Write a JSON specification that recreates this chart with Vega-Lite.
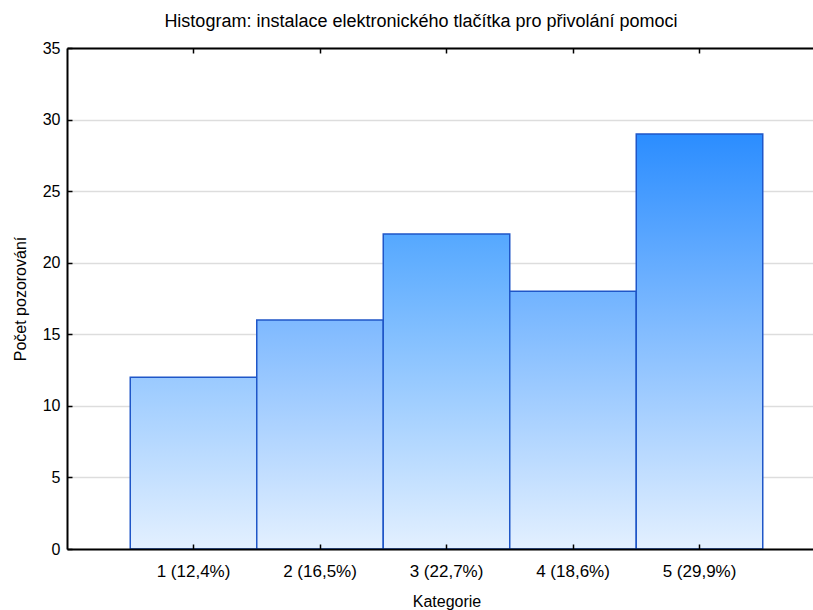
{
  "$schema": "https://vega.github.io/schema/vega-lite/v6.json",
  "autosize": {"type": "none"},
  "padding": {"left": 67, "top": 48, "right": 0, "bottom": 61},
  "width": 746,
  "height": 501,
  "background": "white",
  "config": {
    "font": "Liberation Sans",
    "view": {"stroke": null},
    "axis": {"labelFont": "Liberation Sans", "titleFont": "Liberation Sans", "labelColor": "black", "titleColor": "black", "titleFontWeight": "normal"}
  },
  "title": {"text": "Histogram: instalace elektronického tlačítka pro přivolání pomoci", "fontSize": 18, "fontWeight": "normal", "font": "Liberation Sans", "color": "black", "anchor": "middle", "offset": 9, "dx": -19},
  "data": {"values": [
    {"k": 1, "kat": "1 (12,4%)", "n": 12},
    {"k": 2, "kat": "2 (16,5%)", "n": 16},
    {"k": 3, "kat": "3 (22,7%)", "n": 22},
    {"k": 4, "kat": "4 (18,6%)", "n": 18},
    {"k": 5, "kat": "5 (29,9%)", "n": 29}
  ]},
  "resolve": {"axis": {"x": "independent"}},
  "layer": [
    {
      "transform": [{"filter": "datum.k == 1"}],
      "mark": {"type": "bar", "stroke": "#1f56c8", "strokeWidth": 1.5, "fill": {"gradient": "linear", "x1": 0, "y1": 1, "x2": 0, "y2": 0, "stops": [{"offset": 0, "color": "#E3F0FF"}, {"offset": 1, "color": "#9ACAFF"}]}},
      "encoding": {
        "x": {"field": "kat", "type": "ordinal", "sort": null, "scale": {"range": [0, 759], "paddingInner": 0, "paddingOuter": 0.5},
          "axis": {"orient": "bottom", "title": "Kategorie", "labelAngle": 0, "domainColor": "black", "domainWidth": 2, "tickColor": "black", "tickSize": -5, "tickWidth": 1.5, "labelPadding": 19, "titlePadding": 14, "labelFontSize": 17, "titleFontSize": 16, "zindex": 1}},
        "y": {"field": "n", "type": "quantitative", "scale": {"domain": [0, 35]},
          "axis": {"values": [0, 5, 10, 15, 20, 25, 30, 35], "title": "Počet pozorování", "domainColor": "black", "domainWidth": 2, "tickColor": "black", "tickSize": -5, "tickWidth": 1.5, "labelPadding": 12, "labelFontSize": 16, "titleFontSize": 16, "titlePadding": 14, "grid": true, "gridColor": "#dddddd", "gridWidth": 1.5}}
      }
    },
    {
      "transform": [{"filter": "datum.k == 2"}],
      "mark": {"type": "bar", "stroke": "#1f56c8", "strokeWidth": 1.5, "fill": {"gradient": "linear", "x1": 0, "y1": 1, "x2": 0, "y2": 0, "stops": [{"offset": 0, "color": "#E3F0FF"}, {"offset": 1, "color": "#7EB9FF"}]}},
      "encoding": {"x": {"field": "kat", "type": "ordinal", "sort": null, "axis": null}, "y": {"field": "n", "type": "quantitative"}}
    },
    {
      "transform": [{"filter": "datum.k == 3"}],
      "mark": {"type": "bar", "stroke": "#1f56c8", "strokeWidth": 1.5, "fill": {"gradient": "linear", "x1": 0, "y1": 1, "x2": 0, "y2": 0, "stops": [{"offset": 0, "color": "#E3F0FF"}, {"offset": 1, "color": "#55A8FF"}]}},
      "encoding": {"x": {"field": "kat", "type": "ordinal", "sort": null, "axis": null}, "y": {"field": "n", "type": "quantitative"}}
    },
    {
      "transform": [{"filter": "datum.k == 4"}],
      "mark": {"type": "bar", "stroke": "#1f56c8", "strokeWidth": 1.5, "fill": {"gradient": "linear", "x1": 0, "y1": 1, "x2": 0, "y2": 0, "stops": [{"offset": 0, "color": "#E3F0FF"}, {"offset": 1, "color": "#71B3FF"}]}},
      "encoding": {"x": {"field": "kat", "type": "ordinal", "sort": null, "axis": null}, "y": {"field": "n", "type": "quantitative"}}
    },
    {
      "transform": [{"filter": "datum.k == 5"}],
      "mark": {"type": "bar", "stroke": "#1f56c8", "strokeWidth": 1.5, "fill": {"gradient": "linear", "x1": 0, "y1": 1, "x2": 0, "y2": 0, "stops": [{"offset": 0, "color": "#E3F0FF"}, {"offset": 1, "color": "#2B8DFF"}]}},
      "encoding": {"x": {"field": "kat", "type": "ordinal", "sort": null, "axis": null}, "y": {"field": "n", "type": "quantitative"}}
    },
    {
      "mark": {"type": "bar", "opacity": 0},
      "encoding": {"x": {"field": "kat", "type": "ordinal", "sort": null,
        "axis": {"orient": "top", "labels": false, "title": null, "grid": false, "domainColor": "black", "domainWidth": 2, "tickColor": "black", "tickSize": -5, "tickWidth": 1.5}}}
    }
  ]
}
